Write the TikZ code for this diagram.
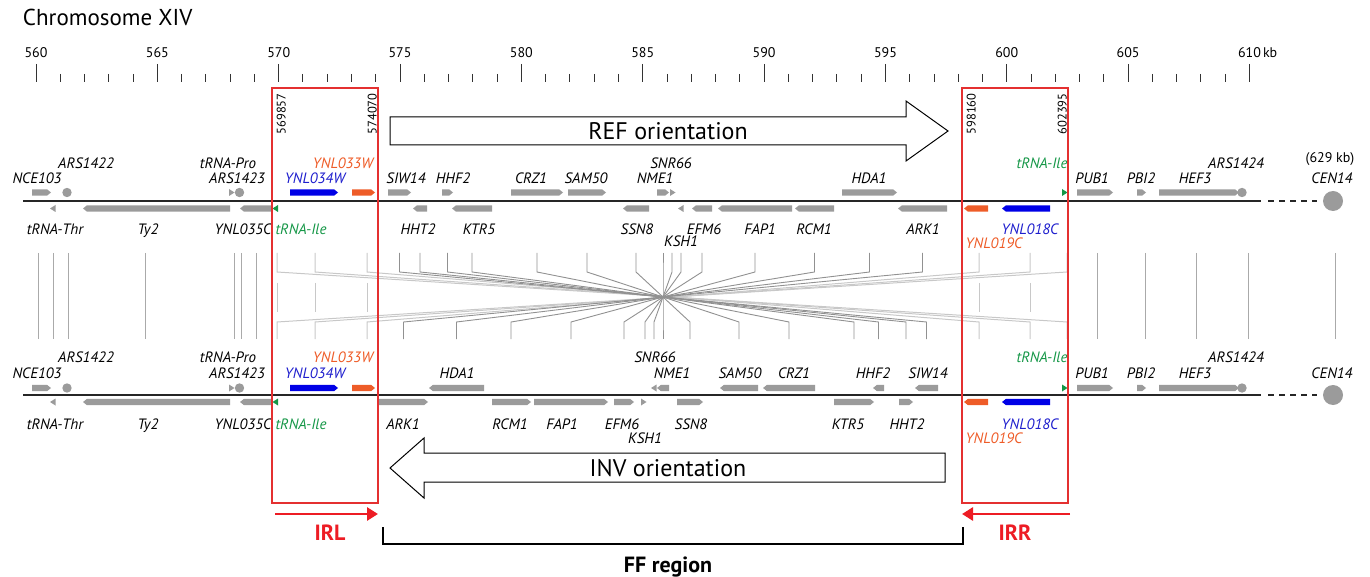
\documentclass[tikz,border=0pt]{standalone}
\usepackage{fontspec}
\setmainfont{PT Sans}
\usepackage{graphicx}
\usetikzlibrary{arrows.meta}
\definecolor{gg}{RGB}{155,155,155}
\definecolor{gblue}{RGB}{0,0,230}
\definecolor{tblue}{RGB}{30,30,205}
\definecolor{gorange}{RGB}{238,92,40}
\definecolor{ggreen}{RGB}{20,150,70}
\definecolor{rbox}{RGB}{228,48,48}
\definecolor{rarr}{RGB}{237,28,36}
\definecolor{vgray}{RGB}{170,170,170}
\definecolor{ffgray}{RGB}{145,145,145}
\definecolor{irgray}{RGB}{200,200,200}
\tikzset{
  every node/.style={inner sep=0pt, outer sep=0pt},
  gl/.style={font=\fontsize{15}{17}\selectfont\itshape, text height=10.5pt, text depth=0pt},
  rl/.style={font=\fontsize{14}{16}\selectfont, text height=10pt, text depth=0pt},
  nl/.style={font=\fontsize{12.5}{14}\selectfont, rotate=90, text height=9pt, text depth=0pt},
  chrom/.style={draw=black!85, line width=1.3pt},
  tickl/.style={draw=black!80, line width=1pt},
  vline/.style={draw=vgray, line width=1pt},
  ffline/.style={draw=ffgray, line width=0.9pt},
  irline/.style={draw=irgray, line width=1pt},
  boxr/.style={draw=rbox, line width=1.5pt},
  orient/.style={draw=black, line width=1pt, fill=white},
  big/.style={font=\fontsize{24}{28}\selectfont, text height=17pt, text depth=0pt},
  ttl/.style={font=\fontsize{23}{27}\selectfont, text height=16pt, text depth=0pt},
  bigb/.style={font=\fontsize{22}{26}\selectfont\bfseries, text height=15.5pt, text depth=0pt},
}
\newcommand{\gF}[4][gg]{\fill[#1] (#2,#4-3.2) -- (#3-4,#4-3.2) -- (#3,#4) -- (#3-4,#4+3.2) -- (#2,#4+3.2) -- cycle;}
\newcommand{\gR}[4][gg]{\fill[#1] (#3,#4-3.2) -- (#2+4,#4-3.2) -- (#2,#4) -- (#2+4,#4+3.2) -- (#3,#4+3.2) -- cycle;}
\newcommand{\trF}[3][gg]{\fill[#1] (#2,#3-3.5) -- (#2+5.5,#3) -- (#2,#3+3.5) -- cycle;}
\newcommand{\trR}[3][gg]{\fill[#1] (#2+5.5,#3-3.5) -- (#2,#3) -- (#2+5.5,#3+3.5) -- cycle;}
\newcommand{\ars}[2]{\fill[gg] (#1,#2) circle (4.7);}
% #1 prefix, #2 upper gene y, #3 lower gene y, #4 row A, #5 row B, #6 row C, #7 row D, #8 line y
\newcommand{\flank}[8]{%
  \draw[chrom] (23,#8) -- (1261,#8);
  \draw[chrom, dash pattern=on 6pt off 5pt] (1268,#8) -- (1317,#8);
  \fill[gg] (1333,#8) circle (10);
  \gF{32}{51}{#2}
  \ars{67}{#2}
  \trF{229}{#2}
  \ars{239.5}{#2}
  \gF[gblue]{290}{338}{#2}
  \gF[gorange]{352}{375}{#2}
  \trR{50}{#3}
  \gR{83}{230}{#3}
  \gR{240}{272}{#3}
  \trR[ggreen]{272.5}{#3}
  \gR[gorange]{964}{988}{#3}
  \gR[gblue]{1002}{1050}{#3}
  \trF[ggreen]{1062}{#2}
  \gF{1077}{1113}{#2}
  \gF{1137}{1146}{#2}
  \gF{1159}{1239}{#2}
  \ars{1242}{#2}
  \node[gl] (#1ARSa) at (86,#4) {ARS1422};
  \node[gl] (#1tPro) at (228,#4) {tRNA-Pro};
  \node[gl, text=gorange] (#1Y33) at (343,#4) {YNL033W};
  \node[gl, text=ggreen] (#1tIleR) at (1042,#4) {tRNA-Ile};
  \node[gl] (#1ARSc) at (1236,#4) {ARS1424};
  \node[gl] (#1NCE) at (37,#5) {NCE103};
  \node[gl] (#1ARSb) at (237,#5) {ARS1423};
  \node[gl, text=tblue] (#1Y34) at (315,#5) {YNL034W};
  \node[gl] (#1PUB) at (1092,#5) {PUB1};
  \node[gl] (#1PBI) at (1141,#5) {PBI2};
  \node[gl] (#1HEF) at (1195,#5) {HEF3};
  \node[gl] (#1CEN) at (1332,#5) {CEN14};
  \node[gl] (#1tThr) at (55,#6) {tRNA-Thr};
  \node[gl] (#1Ty) at (148,#6) {Ty2};
  \node[gl] (#1Y35) at (243,#6) {YNL035C};
  \node[gl, text=ggreen] (#1tIleL) at (301,#6) {tRNA-Ile};
  \node[gl, text=tblue] (#1Y18) at (1030,#6) {YNL018C};
  \node[gl, text=gorange] (#1Y19) at (994,#7) {YNL019C};
}
\begin{document}
\begin{tikzpicture}[x=1pt,y=-1pt]
\useasboundingbox (0,0) rectangle (1370,577);
% title
\node[ttl, anchor=west] (title) at (23,18) {Chromosome XIV};
% ruler
\foreach \k in {0,...,50} \draw[tickl] ({36+\k*24.27},74) -- ({36+\k*24.27},82);
\foreach \k/\lab in {0/560,5/565,10/570,15/575,20/580,25/585,30/590,35/595,40/600,45/605,50/610} {
  \draw[tickl] ({36+\k*24.27},64) -- ({36+\k*24.27},82);
  \node[rl] (r\lab) at ({36+\k*24.27},53) {\lab};
}
\node[rl, anchor=west] (kb) at (1263,53) {kb};
% middle connection lines
\foreach \x in {38,53,68,145,234,241,256,1097,1145,1196,1248,1335}
  \draw[vline] (\x,253) -- (\x,339);
\foreach \a/\b in {277/1067,315/1030,367/979,1067/277,1030/315,979/367}
  \draw[irline] (\a,253) -- (\a,272) -- (\b,322) -- (\b,339);
\foreach \x in {277,315,367,979,1030,1067}
  \draw[irline] (\x,283) -- (\x,312);
\foreach \a/\b in {399.5/926.5,420/906,447.5/878.5,472/854,537/789,587/739,636/690,663/663,672/654,681/645,702/624,755/571,814.5/511,869.5/456.5,922.5/403.5}
  \draw[ffline] (\a,253) -- (\a,272) -- (\b,322) -- (\b,339);
% ===== top track (REF)
\flank{t}{192.5}{208.5}{163}{178}{229}{243}{201}
\node[rl] (t629) at (1330,158) {(629 kb)};
\gF{388}{411}{192.5}
\gF{442}{453}{192.5}
\gR{413}{427}{208.5}
\gR{452}{492}{208.5}
\gF{511}{563}{192.5}
\gF{568}{606}{192.5}
\gF{657}{669}{192.5}
\trF{670}{192.5}
\gR{623}{649}{208.5}
\trR{678}{208.5}
\gR{692}{712}{208.5}
\gR{718}{792}{208.5}
\gR{795}{834}{208.5}
\gF{842}{897}{192.5}
\gR{898}{947}{208.5}
\node[gl] (tSIW) at (406,178) {SIW14};
\node[gl] (tHHF) at (453,178) {HHF2};
\node[gl] (tCRZ) at (531,178) {CRZ1};
\node[gl] (tSAM) at (586,178) {SAM50};
\node[gl] (tSNR) at (671,163) {SNR66};
\node[gl] (tNME) at (655,178) {NME1};
\node[gl] (tHDA) at (869,178) {HDA1};
\node[gl] (tHHT) at (418,229) {HHT2};
\node[gl] (tKTR) at (479,229) {KTR5};
\node[gl] (tSSN) at (637,229) {SSN8};
\node[gl] (tEFM) at (704,229) {EFM6};
\node[gl] (tFAP) at (760,229) {FAP1};
\node[gl] (tRCM) at (814,229) {RCM1};
\node[gl] (tARK) at (923,229) {ARK1};
\node[gl] (tKSH) at (681,241) {KSH1};
% ===== bottom track (INV)
\flank{b}{388}{402}{357}{373}{424}{438}{395}
\gR{429}{484}{388}
\gF{379}{428}{402}
\gF{492}{531}{402}
\gF{534}{608}{402}
\gF{614}{634}{402}
\trF{641}{402}
\trR{651}{388}
\gR{657}{669}{388}
\gF{677}{703}{402}
\gR{720}{758}{388}
\gR{763}{815}{388}
\gF{834}{874}{402}
\gR{873}{884}{388}
\gF{899}{913}{402}
\gR{915}{938}{388}
\node[gl] (bHDA) at (457,373) {HDA1};
\node[gl] (bSNR) at (655,357) {SNR66};
\node[gl] (bNME) at (672,373) {NME1};
\node[gl] (bSAM) at (740,373) {SAM50};
\node[gl] (bCRZ) at (794,373) {CRZ1};
\node[gl] (bHHF) at (873,373) {HHF2};
\node[gl] (bSIW) at (928,373) {SIW14};
\node[gl] (bARK) at (403,424) {ARK1};
\node[gl] (bRCM) at (510,424) {RCM1};
\node[gl] (bFAP) at (562,424) {FAP1};
\node[gl] (bEFM) at (622,424) {EFM6};
\node[gl] (bKSH) at (645,438) {KSH1};
\node[gl] (bSSN) at (691,424) {SSN8};
\node[gl] (bKTR) at (848,424) {KTR5};
\node[gl] (bHHT) at (907,424) {HHT2};
% red IR boxes
\draw[boxr] (272,88) rectangle (378,503);
\draw[boxr] (962,88) rectangle (1068,503);
\node[nl] (p1) at (281,114) {569857};
\node[nl] (p2) at (372,114) {574070};
\node[nl] (p3) at (971,114) {598160};
\node[nl] (p4) at (1062,114) {602395};
% orientation arrows
\draw[orient] (390,117) -- (906,117) -- (906,101) -- (948,131) -- (906,161) -- (906,145) -- (390,145) -- cycle;
\node[big] (ref) at (668,131) {REF orientation};
\draw[orient] (945,453) -- (424,453) -- (424,438) -- (390,468) -- (424,498) -- (424,482) -- (945,482) -- cycle;
\node[big] (inv) at (668,468) {INV orientation};
% IR arrows and labels
\coordinate (irlA) at (275,514);
\coordinate (irlB) at (378,514);
\coordinate (irrA) at (1070,514);
\coordinate (irrB) at (962,514);
\draw[draw=rarr, line width=2.8pt, -{Triangle[length=11pt,width=13pt]}] (irlA) -- (irlB);
\draw[draw=rarr, line width=2.8pt, -{Triangle[length=11pt,width=13pt]}] (irrA) -- (irrB);
\node[bigb, text=rarr] (IRL) at (330,533) {IRL};
\node[bigb, text=rarr] (IRR) at (1015,533) {IRR};
% FF bracket
\coordinate (ffA) at (383,527);
\coordinate (ffB) at (963,527);
\draw[line width=1.8pt] (ffA) -- ++(0,17) -| (ffB);
\node[bigb] (ff) at (668,565) {FF region};
\end{tikzpicture}
\end{document}
